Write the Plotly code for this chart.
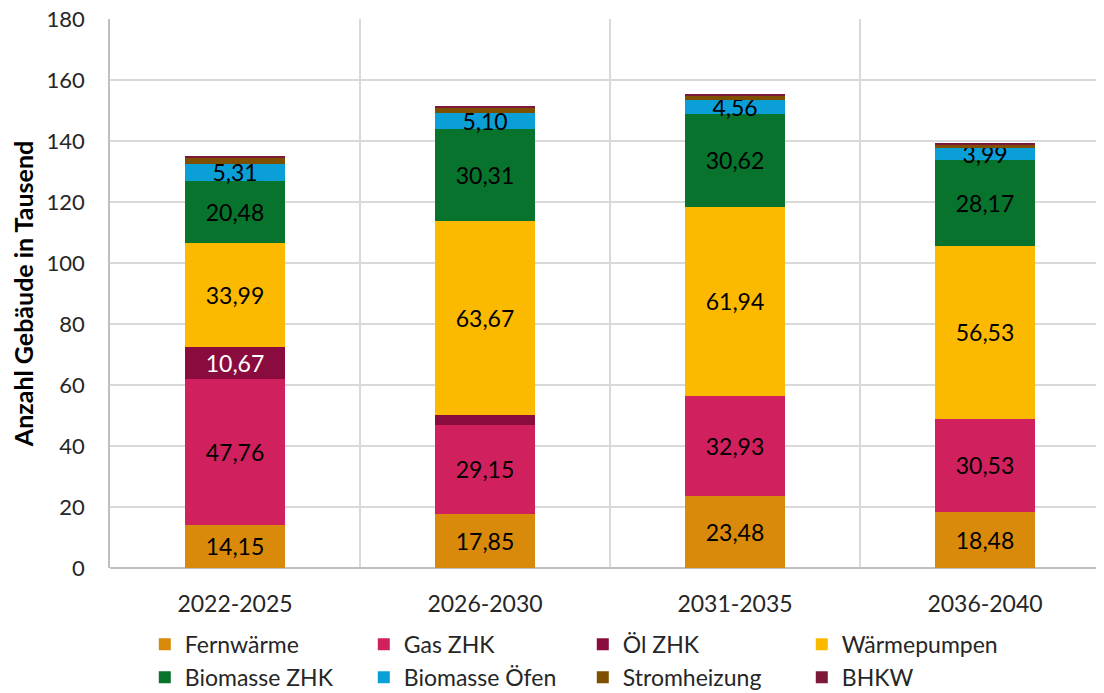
import plotly.graph_objects as go

# Zeiträume und Werte (Tausend Gebäude), von unten nach oben gestapelt
periods = ["2022-2025", "2026-2030", "2031-2035", "2036-2040"]

fernwaerme = [14.15, 17.85, 23.48, 18.48]
gas_zhk = [47.76, 29.15, 32.93, 30.53]
oel_zhk = [10.67, 3.1, 0.0, 0.0]
waermepumpen = [33.99, 63.67, 61.94, 56.53]
biomasse_zhk = [20.48, 30.31, 30.62, 28.17]
biomasse_oefen = [5.31, 5.10, 4.56, 3.99]
stromheizung = [2.2, 1.7, 1.3, 0.9]
bhkw = [0.3, 0.3, 0.3, 0.8]

series = [
    ("Fernwärme", fernwaerme, "#D98A0B", [True] * 4, "black"),
    ("Gas ZHK", gas_zhk, "#D0215E", [True] * 4, "black"),
    ("Öl ZHK", oel_zhk, "#8A0B3D", [True, False, False, False], "white"),
    ("Wärmepumpen", waermepumpen, "#FBBA00", [True] * 4, "black"),
    ("Biomasse ZHK", biomasse_zhk, "#08732D", [True] * 4, "black"),
    ("Biomasse Öfen", biomasse_oefen, "#0B9FD8", [True] * 4, "black"),
    ("Stromheizung", stromheizung, "#7F4F00", [False] * 4, "black"),
    ("BHKW", bhkw, "#7E1838", [False] * 4, "black"),
]

FONT = "Lato, 'Open Sans', sans-serif"

fig = go.Figure()
for name, vals, color, show, tcol in series:
    labels = [f"{v:.2f}".replace(".", ",") if s else "" for v, s in zip(vals, show)]
    fig.add_trace(go.Bar(
        name=name, x=periods, y=vals, marker_color=color,
        marker_line_width=0, width=0.4,
        text=labels, textposition="inside", insidetextanchor="middle",
        textangle=0, textfont=dict(size=23, color=tcol, family=FONT),
    ))

# the page body has an 8px margin, so the figure is 8px smaller than the window
fig.update_layout(
    barmode="stack",
    width=1096, height=685,
    margin=dict(l=102, r=0, t=11, b=125, autoexpand=False),
    plot_bgcolor="white", paper_bgcolor="white",
    font=dict(family=FONT, size=22, color="#262626"),
    uniformtext=dict(minsize=23, mode="show"),
    separators=",.",
    showlegend=True,
    legend=dict(
        orientation="h", x=0.035, y=-0.1, xanchor="left", yanchor="top",
        entrywidth=174, entrywidthmode="pixels", traceorder="normal",
        font=dict(size=23, color="#262626"), itemwidth=30,
    ),
)
fig.update_xaxes(
    range=[-0.5, 3.476], tickson="boundaries", showgrid=True,
    gridcolor="#D9D9D9", gridwidth=1.5, ticks="", showline=False,
    tickfont=dict(size=23, color="#262626"), ticklabelstandoff=20,
    automargin=False,
)
fig.update_yaxes(
    range=[0, 180], tickvals=list(range(0, 181, 20)), showgrid=True,
    gridcolor="#D9D9D9", gridwidth=1.5,
    showline=True, linecolor="#BFBFBF", linewidth=1.5, zeroline=True,
    zerolinecolor="#BFBFBF", zerolinewidth=1.5, ticklabeloverflow="allow",
    tickfont=dict(size=22, color="#262626"), ticks="", ticklabelstandoff=19,
    automargin=False,
    title=dict(text="<b>Anzahl Gebäude in Tausend</b>", font=dict(size=25, color="black"), standoff=10),
)

fig.write_html("out.html")
